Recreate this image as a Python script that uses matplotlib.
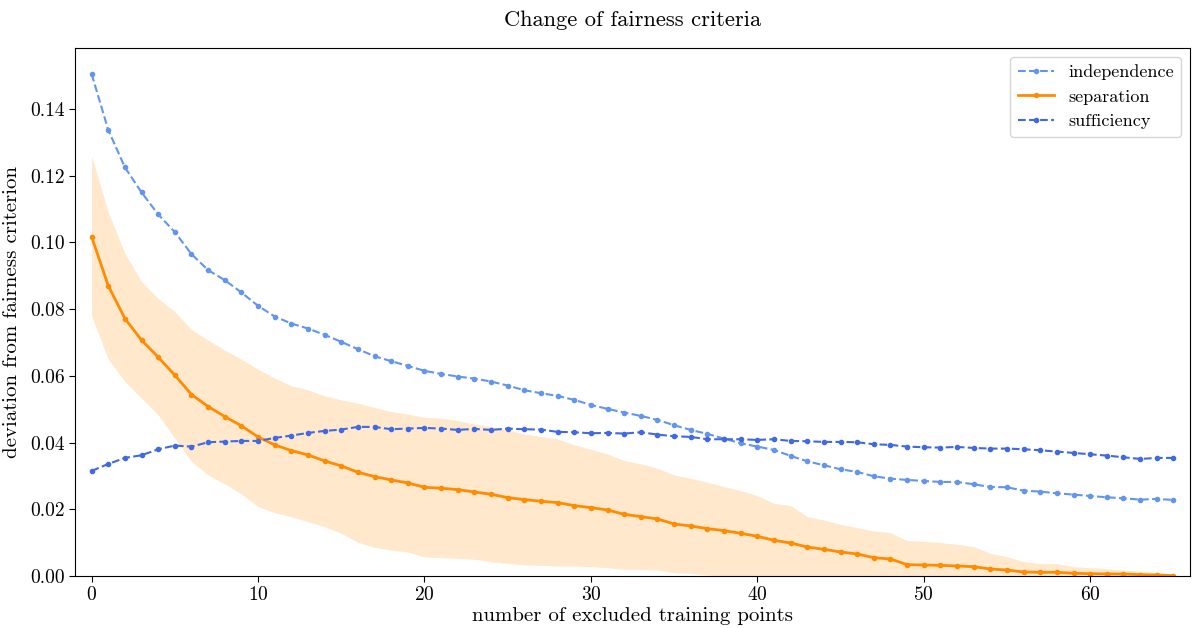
import numpy as np
import matplotlib
matplotlib.use("Agg")
import matplotlib.pyplot as plt

plt.rcParams['font.family'] = ['serif']
plt.rcParams['font.serif'] = ['cmr10', 'DejaVu Serif']
plt.rcParams['mathtext.fontset'] = 'cm'
plt.rcParams['axes.formatter.use_mathtext'] = True

x = np.arange(66)

independence = [0.1505, 0.1337, 0.1225, 0.1150, 0.1084, 0.1031, 0.0965, 0.0917, 0.0887, 0.0850,
                0.0810, 0.0778, 0.0757, 0.0742, 0.0723, 0.0702, 0.0680, 0.0659, 0.0644, 0.0630,
                0.0615, 0.0606, 0.0598, 0.0592, 0.0583, 0.0571, 0.0557, 0.0548, 0.0540, 0.0528,
                0.0513, 0.0501, 0.0490, 0.0480, 0.0468, 0.0452, 0.0438, 0.0426, 0.0412, 0.0398,
                0.0388, 0.0378, 0.0360, 0.0344, 0.0332, 0.0320, 0.0312, 0.0299, 0.0292, 0.0288,
                0.0285, 0.0282, 0.0282, 0.0275, 0.0267, 0.0266, 0.0256, 0.0253, 0.0248, 0.0244,
                0.0240, 0.0236, 0.0233, 0.0229, 0.0231, 0.0228]

sufficiency = [0.0315, 0.0336, 0.0354, 0.0362, 0.0380, 0.0391, 0.0388, 0.0401, 0.0403, 0.0405,
               0.0405, 0.0414, 0.0421, 0.0429, 0.0435, 0.0439, 0.0447, 0.0447, 0.0440, 0.0442,
               0.0444, 0.0442, 0.0438, 0.0441, 0.0438, 0.0442, 0.0440, 0.0439, 0.0432, 0.0431,
               0.0428, 0.0429, 0.0427, 0.0431, 0.0424, 0.0419, 0.0417, 0.0410, 0.0410, 0.0410,
               0.0408, 0.0410, 0.0405, 0.0404, 0.0402, 0.0402, 0.0401, 0.0395, 0.0393, 0.0388,
               0.0386, 0.0385, 0.0387, 0.0384, 0.0382, 0.0382, 0.0380, 0.0377, 0.0373, 0.0369,
               0.0365, 0.0361, 0.0356, 0.0351, 0.0354, 0.0354]

separation = [0.1017, 0.0870, 0.0772, 0.0707, 0.0656, 0.0602, 0.0544, 0.0508, 0.0478, 0.0450,
              0.0417, 0.0393, 0.0376, 0.0363, 0.0345, 0.0330, 0.0311, 0.0298, 0.0288, 0.0279,
              0.0266, 0.0263, 0.0259, 0.0252, 0.0245, 0.0235, 0.0229, 0.0224, 0.0220, 0.0211,
              0.0205, 0.0198, 0.0185, 0.0178, 0.0171, 0.0156, 0.0150, 0.0142, 0.0136, 0.0128,
              0.0119, 0.0107, 0.0099, 0.0087, 0.0080, 0.0072, 0.0066, 0.0055, 0.0051, 0.0034,
              0.0033, 0.0032, 0.0030, 0.0028, 0.0021, 0.0018, 0.0012, 0.0011, 0.0011, 0.0008,
              0.0007, 0.0006, 0.0006, 0.0004, 0.0003, 0.0001]

sep_upper = [0.1259, 0.1090, 0.0967, 0.0882, 0.0832, 0.0792, 0.0739, 0.0707, 0.0677, 0.0650,
             0.0620, 0.0593, 0.0570, 0.0558, 0.0540, 0.0528, 0.0518, 0.0505, 0.0493, 0.0485,
             0.0476, 0.0473, 0.0466, 0.0456, 0.0448, 0.0438, 0.0426, 0.0418, 0.0411, 0.0393,
             0.0380, 0.0366, 0.0346, 0.0336, 0.0323, 0.0303, 0.0293, 0.0281, 0.0268, 0.0256,
             0.0241, 0.0218, 0.0211, 0.0178, 0.0168, 0.0155, 0.0145, 0.0135, 0.0130, 0.0106,
             0.0104, 0.0100, 0.0095, 0.0088, 0.0068, 0.0058, 0.0043, 0.0038, 0.0037, 0.0028,
             0.0025, 0.0022, 0.0018, 0.0014, 0.0010, 0.0003]

sep_lower = [0.0780, 0.0650, 0.0583, 0.0533, 0.0483, 0.0413, 0.0343, 0.0303, 0.0276, 0.0246,
             0.0208, 0.0190, 0.0178, 0.0163, 0.0148, 0.0128, 0.0101, 0.0086, 0.0078, 0.0072,
             0.0057, 0.0055, 0.0053, 0.0050, 0.0043, 0.0038, 0.0033, 0.0032, 0.0030, 0.0030,
             0.0028, 0.0025, 0.0020, 0.0020, 0.0018, 0.0010, 0.0008, 0.0003, 0.0, 0.0,
             0.0, 0.0, 0.0, 0.0, 0.0, 0.0, 0.0, 0.0, 0.0, 0.0,
             0.0, 0.0, 0.0, 0.0, 0.0, 0.0, 0.0, 0.0, 0.0, 0.0,
             0.0, 0.0, 0.0, 0.0, 0.0, 0.0]

fig = plt.figure(figsize=(11.92, 6.28), dpi=100)
ax = fig.add_axes([75/1192, 1 - 576/628, (1190-75)/1192, (576-48)/628])

ax.fill_between(x, sep_lower, sep_upper, color='darkorange', alpha=0.2, linewidth=0)
ax.plot(x, independence, '--', color='cornflowerblue', marker='o', markersize=3,
        linewidth=1.5, label='independence')
ax.plot(x, separation, '-', color='darkorange', marker='o', markersize=3,
        linewidth=2, label='separation')
ax.plot(x, sufficiency, '--', color='royalblue', marker='o', markersize=3,
        linewidth=1.5, label='sufficiency')

ax.set_xlim(-1, 66)
ax.set_ylim(0, 0.1583)
ax.set_yticks([0.0, 0.02, 0.04, 0.06, 0.08, 0.10, 0.12, 0.14])
ax.set_yticklabels(['0.00', '0.02', '0.04', '0.06', '0.08', '0.10', '0.12', '0.14'])
ax.tick_params(labelsize=14, length=4)
ax.set_xlabel('number of excluded training points', fontsize=15, labelpad=2)
ax.set_ylabel('deviation from fairness criterion', fontsize=15, labelpad=6)
ax.set_title('Change of fairness criteria', fontsize=16.2, pad=16)
ax.legend(loc='upper right', fontsize=13, framealpha=0.8)

fig.savefig('out.png', dpi=100)
